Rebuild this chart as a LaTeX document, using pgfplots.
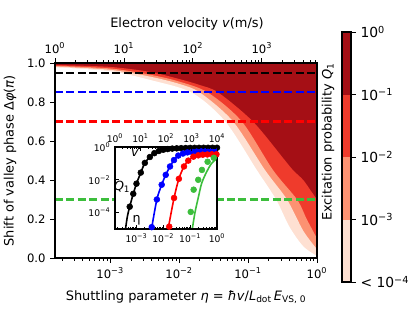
\documentclass[border=0pt]{standalone}
\usepackage{fontspec}
\setmainfont{DejaVu Sans}
\usepackage{pgfplots}
\pgfplotsset{compat=1.18}
\definecolor{cDark}{RGB}{165,15,21}
\definecolor{cRed}{RGB}{239,59,44}
\definecolor{cSalmon}{RGB}{252,146,114}
\definecolor{cLight}{RGB}{254,224,210}
\definecolor{cGreen}{RGB}{60,190,60}
\definecolor{cBlue}{RGB}{0,0,255}
\definecolor{cRd}{RGB}{255,0,0}
\newcommand{\tp}[1]{10\textsuperscript{#1}}
\begin{document}
\begin{tikzpicture}
\useasboundingbox (0,0) rectangle (311.25pt,234pt);
\pgfplotsset{every axis/.append style={axis line style={line width=0.8pt}, every tick/.style={black, line width=0.6pt}, tick align=outside, major tick length=3.6pt, minor tick length=2.1pt, axis on top}}
% ---------- main axis ----------
\begin{axis}[at={(41.25pt,40.5pt)}, anchor=south west, scale only axis, width=196.5pt, height=146.25pt,
  xmode=log, xmin=1.585e-4, xmax=1, ymin=0, ymax=1,
  xtick={1e-3,1e-2,1e-1,1}, xticklabels={\tp{−3},\tp{−2},\tp{−1},\tp{0}},
  minor xtick={2e-4,3e-4,4e-4,5e-4,6e-4,7e-4,8e-4,9e-4,2e-3,3e-3,4e-3,5e-3,6e-3,7e-3,8e-3,9e-3,0.02,0.03,0.04,0.05,0.06,0.07,0.08,0.09,0.2,0.3,0.4,0.5,0.6,0.7,0.8,0.9},
  ytick={0,0.2,0.4,0.6,0.8,1}, yticklabels={0.0,0.2,0.4,0.6,0.8,1.0},
  xtick pos=bottom, ytick pos=left,
  tick label style={font=\fontsize{8.7}{10}\selectfont}]
% full dark region (Q1 > 1e-1)
\addplot[fill=cDark, draw=none] coordinates {(1.585e-4,1) (1,1)} \closedcycle;
% below 1e-1 contour: red
\addplot[fill=cRed, draw=none, smooth] coordinates {
(1.585e-4,0.99) (1e-3,0.98) (3.802e-3,0.954) (1e-2,0.918) (0.01995,0.887) (0.03715,0.848) (0.1175,0.70) (0.3388,0.503) (0.4467,0.451) (0.631,0.40) (0.8318,0.34) (1,0.30)} \closedcycle;
% below 1e-2 contour: salmon
\addplot[fill=cSalmon, draw=none, smooth] coordinates {
(1.585e-4,0.986) (1e-3,0.972) (3.802e-3,0.94) (1e-2,0.905) (0.0263,0.848) (0.08128,0.70) (0.2301,0.451) (0.5129,0.30) (0.7079,0.20) (1,0.10)} \closedcycle;
% below 1e-3 contour: light
\addplot[fill=cLight, draw=none, smooth] coordinates {
(1.585e-4,0.982) (1e-3,0.965) (3.802e-3,0.93) (1e-2,0.893) (0.02014,0.848) (0.06067,0.70) (0.1762,0.451) (0.3673,0.30) (0.631,0.14) (1,0.045)} \closedcycle;
% below 1e-4 contour: white
\addplot[fill=white, draw=none, smooth] coordinates {
(1.585e-4,0.978) (1e-3,0.958) (3.802e-3,0.913) (0.01528,0.848) (0.04677,0.70) (0.134,0.451) (0.2547,0.30) (0.3981,0.16) (0.631,0.06) (1,0.01)} \closedcycle;
% dashed reference lines
\addplot[black, line width=1.6pt, dash pattern=on 6pt off 2.6pt] coordinates {(1.585e-4,0.95) (1,0.95)};
\addplot[cBlue, line width=1.6pt, dash pattern=on 6pt off 2.6pt] coordinates {(1.585e-4,0.85) (1,0.85)};
\addplot[cRd, line width=1.6pt, dash pattern=on 6pt off 2.6pt] coordinates {(1.585e-4,0.70) (1,0.70)};
\addplot[cGreen, line width=1.6pt, dash pattern=on 6pt off 2.6pt] coordinates {(1.585e-4,0.30) (1,0.30)};
\end{axis}
% ---------- top velocity axis ----------
\begin{axis}[at={(41.25pt,40.5pt)}, anchor=south west, scale only axis, width=196.5pt, height=146.25pt,
  xmode=log, xmin=1, xmax=6310, ymin=0, ymax=1,
  axis x line*=top, axis y line=none,
  xtick={1,10,100,1000}, xticklabels={\tp{0},\tp{1},\tp{2},\tp{3}},
  minor xtick={2,3,4,5,6,7,8,9,20,30,40,50,60,70,80,90,200,300,400,500,600,700,800,900,2000,3000,4000,5000,6000},
  tick label style={font=\fontsize{8.7}{10}\selectfont}]
\addplot[draw=none] coordinates {(1,0.5) (10,0.5)};
\end{axis}
% ---------- inset ----------
\begin{axis}[at={(86.25pt,62.25pt)}, anchor=south west, scale only axis, width=76.5pt, height=61.5pt,
  xmode=log, ymode=log, xmin=1.585e-4, xmax=1, ymin=1e-5, ymax=1,
  axis background/.style={fill=white},
  xtick={1e-3,1e-2,1e-1,1}, xticklabels={\tp{−3},\tp{−2},\tp{−1},\tp{0}},
  minor xtick={2e-4,3e-4,4e-4,5e-4,6e-4,7e-4,8e-4,9e-4,2e-3,3e-3,4e-3,5e-3,6e-3,7e-3,8e-3,9e-3,0.02,0.03,0.04,0.05,0.06,0.07,0.08,0.09,0.2,0.3,0.4,0.5,0.6,0.7,0.8,0.9},
  ytick={1e-4,1e-2,1}, yticklabels={\tp{−4},\tp{−2},\tp{0}},
  xtick pos=bottom, ytick pos=left, tick align=inside,
  major tick length=3pt, minor tick length=1.6pt,
  tick label style={font=\fontsize{6.9}{8}\selectfont}]
% black
\addplot[black, line width=1.2pt, smooth] coordinates {(3.9e-4,1e-5) (4.6e-4,6e-5) (5.6e-4,2.3e-4) (7.6e-4,1.4e-3) (1e-3,5.8e-3) (1.45e-3,2.75e-2) (2.05e-3,0.107) (3.16e-3,0.245) (4.64e-3,0.42) (6.81e-3,0.57) (1e-2,0.68) (1.47e-2,0.75) (2.15e-2,0.8) (3.16e-2,0.83) (4.64e-2,0.85) (6.81e-2,0.87) (0.1,0.88) (0.147,0.89) (0.215,0.89) (0.316,0.9) (0.464,0.9) (0.681,0.9) (1,0.9)};
\addplot[black, only marks, mark=*, mark size=2.2pt] coordinates {(5.6e-4,2.3e-4) (7.6e-4,1.4e-3) (1e-3,5.8e-3) (1.45e-3,2.75e-2) (2.05e-3,0.107) (3.16e-3,0.245) (4.64e-3,0.42) (6.81e-3,0.57) (1e-2,0.68) (1.47e-2,0.75) (2.15e-2,0.8) (3.16e-2,0.83) (4.64e-2,0.85) (6.81e-2,0.87) (0.1,0.88) (0.147,0.89) (0.215,0.89) (0.316,0.9) (0.464,0.9) (0.681,0.9) (1,0.9)};
% blue
\addplot[cBlue, line width=1.2pt, smooth] coordinates {(3.63e-3,1e-5) (5.75e-3,6.3e-4) (8.7e-3,5e-3) (1.23e-2,2e-2) (1.78e-2,6.5e-2) (2.5e-2,0.16) (3.6e-2,0.3) (5.4e-2,0.4) (7.9e-2,0.47) (0.117,0.5) (0.174,0.52) (0.257,0.54) (0.38,0.55) (0.56,0.55) (1,0.56)};
\addplot[cBlue, only marks, mark=*, mark size=2.2pt] coordinates {(3.7e-3,1.3e-5) (5.75e-3,6.3e-4) (8.7e-3,5e-3) (1.23e-2,2e-2) (1.78e-2,6.5e-2) (2.5e-2,0.16) (3.6e-2,0.3) (5.4e-2,0.4) (7.9e-2,0.47) (0.117,0.5) (0.174,0.52) (0.257,0.54) (0.38,0.55) (0.56,0.55) (0.83,0.56)};
% red
\addplot[cRd, line width=1.2pt, smooth] coordinates {(0.0151,1e-5) (0.0251,7.8e-4) (0.038,0.0115) (0.0589,0.065) (0.0851,0.148) (0.132,0.257) (0.2,0.31) (0.295,0.34) (0.437,0.35) (0.646,0.36) (1,0.36)};
\addplot[cRd, only marks, mark=*, mark size=2.2pt] coordinates {(0.0166,1.4e-5) (0.0251,7.8e-4) (0.038,0.0115) (0.0589,0.065) (0.0851,0.148) (0.132,0.257) (0.2,0.31) (0.295,0.34) (0.437,0.35) (0.646,0.36) (0.955,0.36)};
% green
\addplot[cGreen, line width=1.2pt, smooth] coordinates {(0.12,1e-5) (0.151,1e-4) (0.2,8e-4) (0.27,6.3e-3) (0.417,3.2e-2) (0.63,0.1) (1,0.2)};
\addplot[cGreen, only marks, mark=*, mark size=2.2pt] coordinates {(0.105,1.1e-4) (0.135,2.5e-3) (0.2,1e-2) (0.275,4e-2) (0.447,0.126) (0.76,0.22)};
\node[font=\fontsize{9.5}{11}\selectfont\itshape] at (rel axis cs:0.196,0.93) {v};
\node[font=\fontsize{9.5}{11}\selectfont] at (rel axis cs:0.07,0.516) {\textit{Q}\textsubscript{1}};
\node[font=\fontsize{9.5}{11}\selectfont] at (rel axis cs:0.213,0.11) {η};
\end{axis}
% inset top axis
\begin{axis}[at={(86.25pt,62.25pt)}, anchor=south west, scale only axis, width=76.5pt, height=61.5pt,
  xmode=log, xmin=1, xmax=1e4, ymin=0, ymax=1,
  axis x line*=top, axis y line=none, tick align=inside,
  major tick length=3pt, minor tick length=1.6pt,
  xtick={1,10,100,1000,10000}, xticklabels={\tp{0},\tp{1},\tp{2},\tp{3},\tp{4}},
  minor xtick={2,3,4,5,6,7,8,9,20,30,40,50,60,70,80,90,200,300,400,500,600,700,800,900,2000,3000,4000,5000,6000,7000,8000,9000},
  tick label style={font=\fontsize{6.9}{8}\selectfont}]
\addplot[draw=none] coordinates {(1,0.5) (10,0.5)};
\end{axis}
% ---------- colorbar ----------
\begin{axis}[at={(256.5pt,22.5pt)}, anchor=south west, scale only axis, width=6.75pt, height=187.5pt,
  xmin=0, xmax=1, ymin=0, ymax=4, xtick=\empty,
  ytick={0,1,2,3,4}, yticklabels={< \tp{−4},\tp{−3},\tp{−2},\tp{−1},\tp{0}},
  ytick pos=right, yticklabel pos=right,
  tick label style={font=\fontsize{10.4}{12}\selectfont}]
\addplot[fill=cDark, draw=none] coordinates {(0,4) (1,4)} \closedcycle;
\addplot[fill=cRed, draw=none] coordinates {(0,3) (1,3)} \closedcycle;
\addplot[fill=cSalmon, draw=none] coordinates {(0,2) (1,2)} \closedcycle;
\addplot[fill=cLight, draw=none] coordinates {(0,1) (1,1)} \closedcycle;
\end{axis}
% ---------- labels ----------
\node[rotate=90, font=\fontsize{9.7}{11}\selectfont] at (7.5pt,113.5pt) {Shift of valley phase Δ\textit{φ}(\textit{π})};
\node[font=\fontsize{9.7}{11}\selectfont] at (139.5pt,11.25pt) {Shuttling parameter \textit{η} = \textit{ħv}/\textit{L}\textsubscript{dot}\,\textit{E}\textsubscript{VS, 0}};
\node[font=\fontsize{9.7}{11}\selectfont] at (140.25pt,216pt) {Electron velocity \textit{v}(m/s)};
\node[rotate=90, font=\fontsize{9.7}{11}\selectfont] at (246pt,127.5pt) {Excitation probability \textit{Q}\textsubscript{1}};
\end{tikzpicture}
\end{document}
